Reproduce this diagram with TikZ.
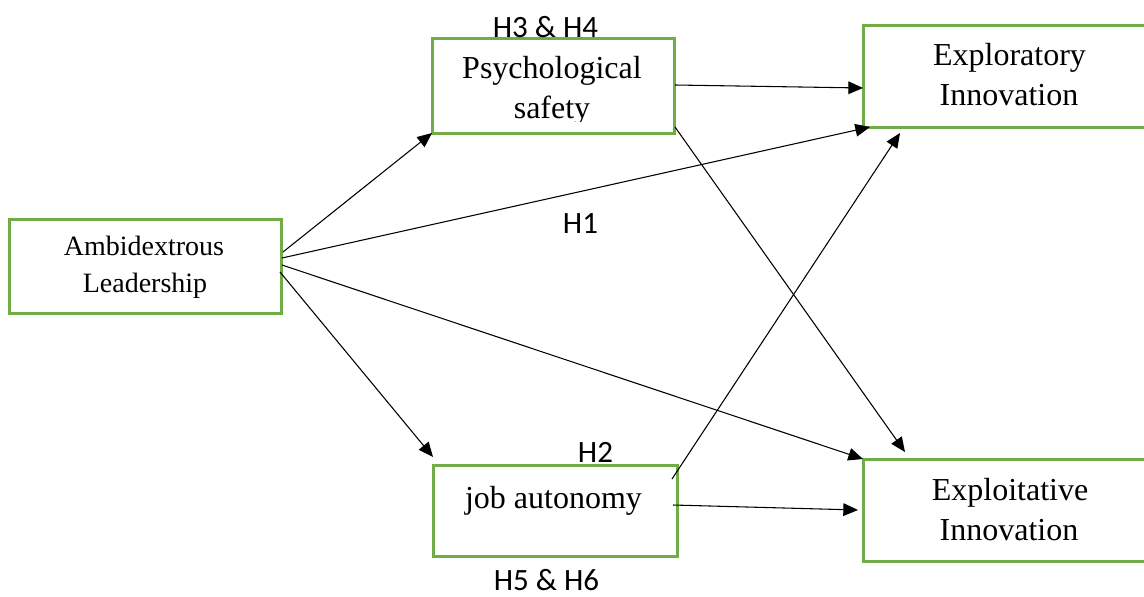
\documentclass[tikz,border=0pt]{standalone}
\usepackage{fontspec}
\setmainfont{Liberation Serif}
\newfontfamily\lblfont{Carlito}
\usetikzlibrary{arrows.meta,calc}
\definecolor{boxgreen}{RGB}{112,173,71}
\begin{document}
\begin{tikzpicture}[x=0.75pt,y=-0.75pt,
  box/.style={draw=boxgreen, line width=2.25pt, rectangle, outer sep=0pt, inner sep=0pt},
  txt/.style={inner sep=0pt, anchor=base, font=\fontsize{24pt}{24pt}\selectfont},
  smalltxt/.style={inner sep=0pt, anchor=base, font=\fontsize{21pt}{21pt}\selectfont},
  hyp/.style={inner sep=0pt, anchor=base, font=\lblfont\fontsize{23.25pt}{23.25pt}\selectfont},
  conn/.style={line width=0.8pt, -{Triangle[length=11pt,width=9.5pt]}},
]
\useasboundingbox (0,0) rectangle (1144,596);

% boxes
\node[box, minimum width=204pt, minimum height=70.5pt] (amb) at (145,266) {};
\node[box, minimum width=181.5pt, minimum height=71.25pt] (ps) at (553,85.5) {};
\node[box, minimum width=183pt, minimum height=68.25pt] (ja) at (555,510.5) {};
\node[box, minimum width=222.75pt, minimum height=76.5pt] (er) at (1011.5,76) {};
\node[box, minimum width=222.75pt, minimum height=76.5pt] (ei) at (1011.5,510) {};

% box texts
\node[smalltxt] (ambA) at (144,255) {Ambidextrous};
\node[smalltxt] (ambB) at (145,292) {Leadership};
\node[txt] (psA) at (552,78) {Psychological};
\begin{scope}
  \clip (433,40) rectangle (673,121);
  \node[txt] (psB) at (552,118) {safety};
\end{scope}
\node[txt] (jaA) at (553.5,508) {job autonomy};
\node[txt] (erA) at (1009.5,65) {Exploratory};
\node[txt] (erB) at (1009,105) {Innovation};
\node[txt] (eiA) at (1010,500) {Exploitative};
\node[txt] (eiB) at (1009,540) {Innovation};

% hypothesis labels
\node[hyp] (h34) at (545.5,37) {H3 \& H4};
\node[hyp] (h1) at (580.5,233) {H1};
\node[hyp] (h2) at (595.5,462) {H2};
\node[hyp] (h56) at (546.5,590) {H5 \& H6};

% connectors
\draw[conn] ($(amb.north east)+(2,33)$) -- (ps.south west);
\draw[conn] ($(amb.north east)+(1,39)$) -- ($(er.south west)+(7,0)$);
\draw[conn] ($(amb.north east)+(1,46)$) -- (ei.north west);
\draw[conn] ($(amb.north east)+(-1,53)$) -- ($(ja.north west)+(0,-8)$);
\draw[conn] ($(ps.north east)+(1,47)$) -- ($(er.north west)+(0,63)$);
\draw[conn] ($(ps.north east)+(1,89)$) -- ($(ei.north west)+(42,-7)$);
\draw[conn] ($(ja.north east)+(-5,14)$) -- ($(er.south west)+(37,6)$);
\draw[conn] ($(ja.north east)+(-4,40)$) -- ($(ei.north west)+(-5,51)$);
\end{tikzpicture}
\end{document}
